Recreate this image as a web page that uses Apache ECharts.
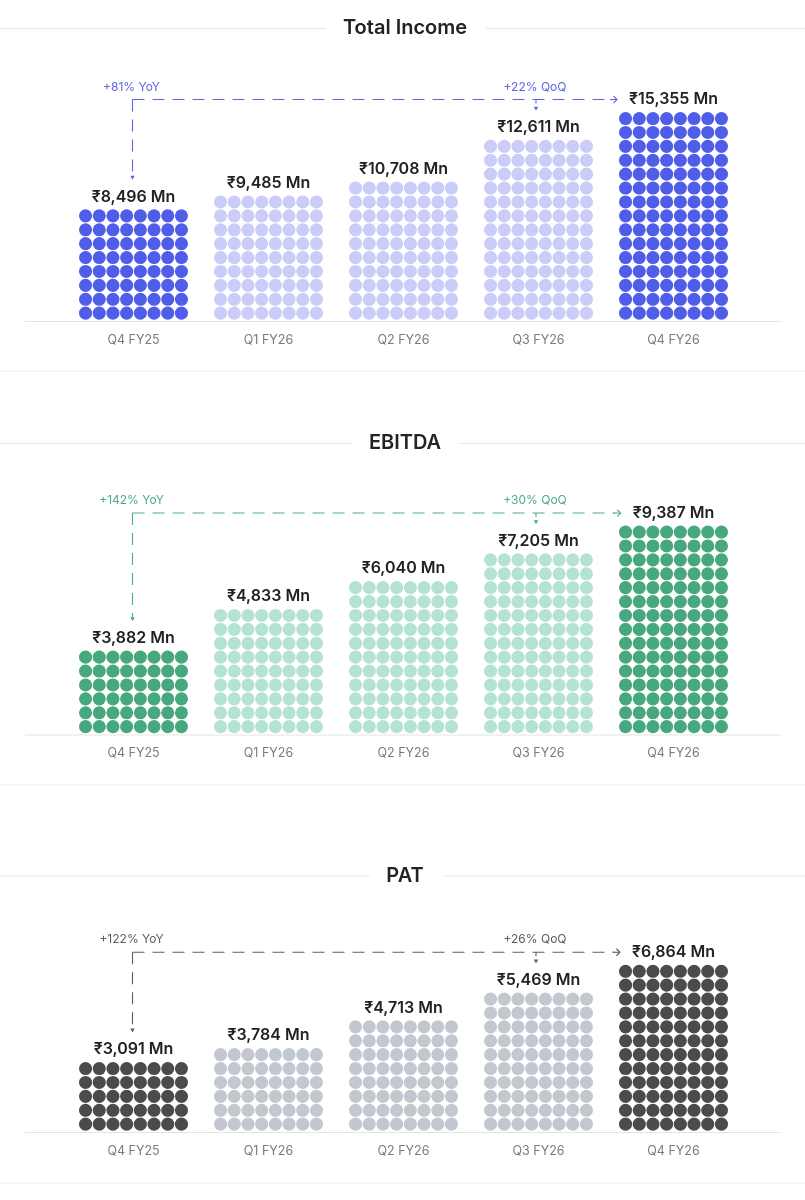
<!DOCTYPE html>
<html>
<head>
<meta charset="utf-8">
<script src="https://cdn.jsdelivr.net/npm/echarts@6/dist/echarts.min.js"></script>
<style>
html,body{margin:0;padding:0;background:#ffffff;}
#chart{width:805px;height:1200px;}
</style>
</head>
<body>
<div id="chart"></div>
<script>
// ---------------- data ----------------
const categories = ['Q4 FY25', 'Q1 FY26', 'Q2 FY26', 'Q3 FY26', 'Q4 FY26'];

const incomeValues  = [8496, 9485, 10708, 12611, 15355];
const incomeDotRows = [8, 9, 10, 13, 15];
const incomeGrowth  = ['+81% YoY', '+22% QoQ'];

const ebitdaValues  = [3882, 4833, 6040, 7205, 9387];
const ebitdaDotRows = [6, 9, 11, 13, 15];
const ebitdaGrowth  = ['+142% YoY', '+30% QoQ'];

const patValues  = [3091, 3784, 4713, 5469, 6864];
const patDotRows = [5, 6, 8, 10, 12];
const patGrowth  = ['+122% YoY', '+26% QoQ'];

const panelTitles = ['Total Income', 'EBITDA', 'PAT'];

// ---------------- styling ----------------
const FONT = 'Inter, "Noto Sans", "DejaVu Sans", sans-serif';
const COLS = 8, PITCH_X = 13.7, R = 6.55;
const Y_MAX = 20, GRID_H = 278;          // 13.9 px per dot row
const LABEL_GAP = 19;

const panels = [
  { title: panelTitles[0], values: incomeValues, rows: incomeDotRows, growth: incomeGrowth,
    dark: '#4f5de9', light: '#c9cdf8', annot: '#5a66e6', titleY: 28, baseY: 321.5, sepY: 371 },
  { title: panelTitles[1], values: ebitdaValues, rows: ebitdaDotRows, growth: ebitdaGrowth,
    dark: '#46a87c', light: '#b5e3d3', annot: '#4bad83', titleY: 443, baseY: 735, sepY: 785 },
  { title: panelTitles[2], values: patValues, rows: patDotRows, growth: patGrowth,
    dark: '#4b4b4b', light: '#c3c7cf', annot: '#5c5c5c', titleY: 875.5, baseY: 1132.5, sepY: 1183 }
];

function fmtNum(v) {
  return String(v).replace(/\B(?=(\d{3})+(?!\d))/g, ',');
}
function valueLabel(v) { return '\u20B9' + fmtNum(v) + ' Mn'; }

const measureCtx = document.createElement('canvas').getContext('2d');
function textWidth(text, font) { measureCtx.font = font; return measureCtx.measureText(text).width; }

const VALUE_FONT = '600 16px ' + FONT;
const TITLE_FONT = '600 20px ' + FONT;

const chart = echarts.init(document.getElementById('chart'));

const grids = [], xAxes = [], yAxes = [], series = [];
panels.forEach((p, pi) => {
  grids.push({ left: 66, width: 675, top: p.baseY - GRID_H, height: GRID_H });
  xAxes.push({
    type: 'category', gridIndex: pi, data: categories,
    axisLine: { show: false }, axisTick: { show: false }, splitLine: { show: false },
    axisLabel: { color: '#7b7b7b', fontSize: 12.5, fontFamily: FONT, margin: 12 }
  });
  yAxes.push({ type: 'value', gridIndex: pi, min: 0, max: Y_MAX, show: false, splitLine: { show: false } });
  series.push({
    type: 'custom', xAxisIndex: pi, yAxisIndex: pi, clip: false, silent: true,
    data: categories.map((c, i) => [i, p.rows[i], p.values[i]]),
    encode: { x: 0, y: 1 },
    renderItem: function (params, api) {
      const idx = api.value(0), rows = api.value(1), val = api.value(2);
      const cx = api.coord([idx, 0])[0];
      const hi = (idx === 0 || idx === categories.length - 1);
      const color = hi ? p.dark : p.light;
      const children = [];
      for (let r = 0; r < rows; r++) {
        const cy = api.coord([idx, r + 0.6])[1];
        for (let c = 0; c < COLS; c++) {
          children.push({ type: 'circle',
            shape: { cx: cx + (c - (COLS - 1) / 2) * PITCH_X, cy: cy, r: R },
            style: { fill: color } });
        }
      }
      const topY = api.coord([idx, rows - 1 + 0.6])[1];
      children.push({ type: 'text',
        style: { text: valueLabel(val), x: cx, y: topY - LABEL_GAP, align: 'center',
          verticalAlign: 'middle', font: VALUE_FONT, fill: '#222222' } });
      return { type: 'group', children: children };
    }
  });
});

chart.setOption({
  animation: false,
  backgroundColor: '#ffffff',
  grid: grids, xAxis: xAxes, yAxis: yAxes, series: series
});

// ---------------- decorations & annotations ----------------
const graphics = [];
const W = 805;
panels.forEach((p, pi) => {
  // title with side rules
  const tw = textWidth(p.title, TITLE_FONT);
  const tcx = 405;
  graphics.push({ type: 'text', silent: true,
    style: { text: p.title, x: tcx, y: p.titleY, align: 'center', verticalAlign: 'middle',
      font: TITLE_FONT, fill: '#232323' } });
  graphics.push({ type: 'line', silent: true, shape: { x1: 0, y1: p.titleY + 0.5, x2: tcx - tw / 2 - 17, y2: p.titleY + 0.5 },
    style: { stroke: '#e6e6e6', lineWidth: 1 } });
  graphics.push({ type: 'line', silent: true, shape: { x1: tcx + tw / 2 + 19, y1: p.titleY + 0.5, x2: W, y2: p.titleY + 0.5 },
    style: { stroke: '#e6e6e6', lineWidth: 1 } });
  // baseline
  graphics.push({ type: 'line', silent: true, shape: { x1: 25, y1: p.baseY, x2: 781, y2: p.baseY },
    style: { stroke: '#e4e4e4', lineWidth: 1 } });
  // section separator
  graphics.push({ type: 'line', silent: true, shape: { x1: 0, y1: p.sepY, x2: W, y2: p.sepY },
    style: { stroke: '#ebebeb', lineWidth: 1.2 } });

  // annotation connector
  const n = categories.length;
  const labelY = (i) => chart.convertToPixel({ gridIndex: pi }, [i, p.rows[i] - 1 + 0.6])[1] - LABEL_GAP;
  const catX = (i) => chart.convertToPixel({ gridIndex: pi }, [i, 0])[0];
  const x0 = catX(0) - 1, xq = catX(n - 2) - 2.5, xl = catX(n - 1);
  const hy = labelY(n - 1);
  const tip = xl - textWidth(valueLabel(p.values[n - 1]), VALUE_FONT) / 2 - 12;
  const yEnd0 = labelY(0) - 17;
  const yEndQ = labelY(n - 2) - 16.5;
  const dash = { stroke: p.annot, lineWidth: 1.1, lineDash: [12, 8] };
  graphics.push({ type: 'line', silent: true, shape: { x1: x0, y1: hy, x2: x0, y2: yEnd0 - 3 }, style: dash });
  graphics.push({ type: 'line', silent: true, shape: { x1: x0, y1: hy, x2: tip - 6, y2: hy }, style: dash });
  graphics.push({ type: 'polygon', silent: true, shape: { points: [[x0 - 2.2, yEnd0 - 4], [x0 + 2.2, yEnd0 - 4], [x0, yEnd0]] },
    style: { fill: p.annot } });
  // QoQ tick
  graphics.push({ type: 'line', silent: true, shape: { x1: xq, y1: hy, x2: xq, y2: hy + 4 }, style: { stroke: p.annot, lineWidth: 1.1 } });
  graphics.push({ type: 'polygon', silent: true, shape: { points: [[xq - 2.2, yEndQ - 4], [xq + 2.2, yEndQ - 4], [xq, yEndQ]] },
    style: { fill: p.annot } });
  // right arrow
  graphics.push({ type: 'polyline', silent: true,
    shape: { points: [[tip - 3.5, hy - 3.5], [tip, hy], [tip - 3.5, hy + 3.5]] },
    style: { stroke: p.annot, lineWidth: 1.1, fill: null } });
  graphics.push({ type: 'line', silent: true, shape: { x1: tip - 7, y1: hy, x2: tip, y2: hy },
    style: { stroke: p.annot, lineWidth: 1.1 } });
  // growth texts
  graphics.push({ type: 'text', silent: true,
    style: { text: p.growth[0], x: x0 - 1, y: hy - 12.5, align: 'center', verticalAlign: 'middle',
      font: '400 12px ' + FONT, fill: p.annot } });
  graphics.push({ type: 'text', silent: true,
    style: { text: p.growth[1], x: xq - 1, y: hy - 12.5, align: 'center', verticalAlign: 'middle',
      font: '400 12px ' + FONT, fill: p.annot } });
});

chart.setOption({ graphic: { elements: graphics } });
</script>
</body>
</html>
